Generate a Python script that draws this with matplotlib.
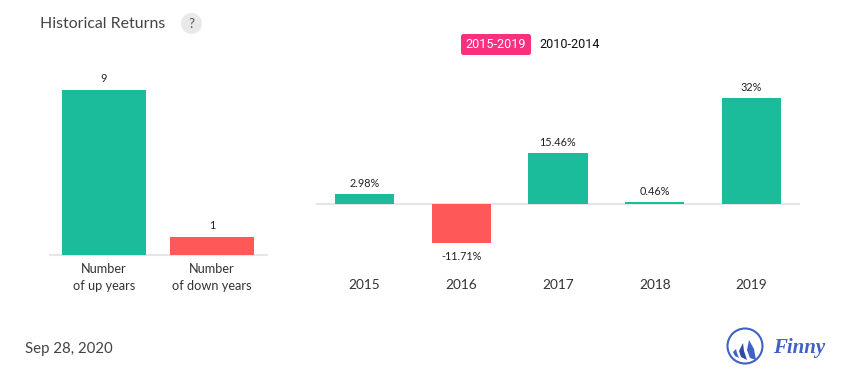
import matplotlib
matplotlib.use('Agg')
import matplotlib.pyplot as plt
from matplotlib.patches import Circle, FancyBboxPatch, Polygon

plt.rcParams['font.family'] = ['Lato', 'DejaVu Sans']

W, H = 855, 382

count_labels = ['Number\nof up years', 'Number\nof down years']
count_values = [9, 1]
count_colors = ['#1abc9c', '#ff5858']

years = ['2015', '2016', '2017', '2018', '2019']
returns = [2.98, -11.71, 15.46, 0.46, 32]
return_labels = ['2.98%', '-11.71%', '15.46%', '0.46%', '32%']

GREEN = '#1abc9c'
RED = '#ff5858'
GRID = '#e6e6e6'
TEXT = '#333333'
BLUE = '#3f62c4'


def px_axes(fig, left, top, right, bottom):
    return fig.add_axes([left / W, 1 - bottom / H, (right - left) / W, (bottom - top) / H])


def clean(ax):
    for s in ['top', 'left', 'right', 'bottom']:
        ax.spines[s].set_visible(False)
    ax.set_yticks([])
    ax.patch.set_alpha(0)


fig = plt.figure(figsize=(W / 100, H / 100), dpi=100, facecolor='white')

# left panel, count of up / down years
ax1 = px_axes(fig, 50, 73, 267, 255)
clean(ax1)
ax1.bar(range(2), count_values, width=0.778, color=count_colors)
ax1.set_xlim(-0.5, 1.509)
ax1.set_ylim(0, 182 / (165 / 9))
ax1.axhline(0, color=GRID, lw=1.5, clip_on=False, zorder=0)
ax1.set_xticks(range(2))
ax1.set_xticklabels(count_labels, fontsize=9.2, color=TEXT, linespacing=1.5)
ax1.tick_params(axis='x', length=0, pad=5.5)
for i, v in enumerate(count_values):
    ax1.annotate(str(v), (i, v), xytext=(0, 4), textcoords='offset points',
                 ha='center', va='bottom', fontsize=7.8, color='#222222')

# right panel, yearly returns
ax2 = px_axes(fig, 316.1, 73, 799.9, 270)
clean(ax2)
colors = [GREEN if r >= 0 else RED for r in returns]
ax2.bar(range(5), returns, width=0.61, color=colors)
ax2.set_xlim(-0.5, 4.5)
ax2.set_ylim(-66 / 3.3125, 131 / 3.3125)
ax2.axhline(0, color=GRID, lw=1.5, zorder=0)
ax2.set_xticks(range(5))
ax2.set_xticklabels(years, fontsize=9.8, color=TEXT)
ax2.tick_params(axis='x', length=0, pad=6.5)
for i, (r, lab) in enumerate(zip(returns, return_labels)):
    if r >= 0:
        ax2.annotate(lab, (i, r), xytext=(0, 3.6), textcoords='offset points',
                     ha='center', va='bottom', fontsize=7.8, color='#222222')
    else:
        ax2.annotate(lab, (i, r), xytext=(0, -6.2), textcoords='offset points',
                     ha='center', va='top', fontsize=7.8, color='#222222')

# overlay in pixel coordinates for title, buttons, date and logo
ov = fig.add_axes([0, 0, 1, 1])
ov.set_xlim(0, W)
ov.set_ylim(H, 0)
ov.axis('off')
ov.patch.set_alpha(0)

ov.text(40, 23.5, 'Historical Returns', fontsize=11.4, color='#444444', va='center')
ov.add_patch(Circle((191.5, 23.5), 10.5, color='#e9e9e9', lw=0))
ov.text(191.5, 23.5, '?', fontsize=9.5, color='#555555', ha='center', va='center')

ov.add_patch(FancyBboxPatch((461, 34), 70, 21, boxstyle='round,pad=0,rounding_size=2.5',
                            fc='#f8317f', ec='none'))
ov.text(496, 45, '2015-2019', fontsize=9.1, color='white', ha='center', va='center',
        family='Roboto')
ov.text(570, 45, '2010-2014', fontsize=9.1, color='#111111', ha='center', va='center',
        family='Roboto')

ov.text(25, 348.5, 'Sep 28, 2020', fontsize=10.8, color='#444444', va='center')

# Finny logo
ov.add_patch(Circle((745, 346), 17.5, fc='white', ec=BLUE, lw=1.5))
ov.add_patch(Polygon([(749, 340), (747, 350), (750, 358), (756, 360), (754, 349)], fc=BLUE, lw=0))
ov.add_patch(Polygon([(743, 343), (739, 351), (741, 357), (747, 360), (744, 351)], fc='#2c4aa8', lw=0))
ov.add_patch(Polygon([(736, 349), (733, 352), (735, 356), (739, 358), (737, 353)], fc=BLUE, lw=0))
ov.text(773, 348, 'Finny', fontsize=15, color=BLUE, style='italic', weight='bold',
        va='center', family='Liberation Serif')

fig.savefig('out.png', dpi=100)
